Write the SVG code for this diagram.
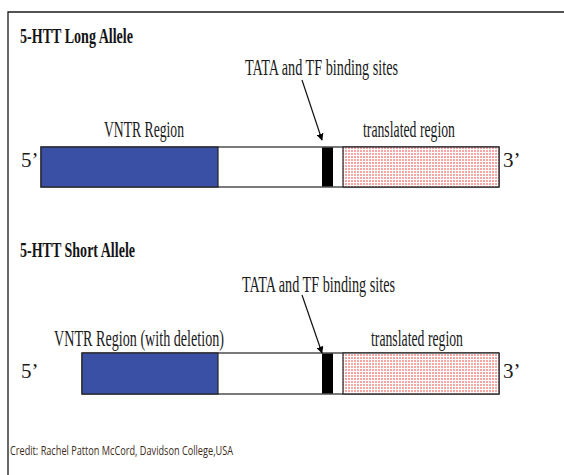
<svg xmlns="http://www.w3.org/2000/svg" width="564" height="475" viewBox="0 0 564 475">
  <style>
    .title { font-family: "Liberation Serif", "Times New Roman", serif; font-weight: bold; font-size: 21px; fill: #141414; }
    .label { font-family: "Liberation Serif", "Times New Roman", serif; font-size: 23px; fill: #1a1a1a; }
    .end { font-family: "Liberation Serif", "Times New Roman", serif; font-size: 21px; fill: #1a1a1a; }
    .credit { font-family: "Open Sans", "Liberation Sans", sans-serif; font-size: 12px; fill: #3b2a18; }
    .seg { stroke: #222; stroke-width: 1.2; }
    .vntr { fill: #3a50a4; }
    .spacer { fill: #ffffff; }
    .tata { fill: #000000; stroke: none; }
    .coding { fill: url(#dots); }
    .arrow { stroke: #111; stroke-width: 1.2; fill: none; marker-end: url(#head); }
  </style>
  <defs>
    <pattern id="dots" width="3" height="3" patternUnits="userSpaceOnUse">
      <rect width="3" height="3" fill="#ffffff"/>
      <rect width="2" height="2" fill="#f6a5a5"/>
    </pattern>
    <marker id="head" viewBox="0 0 10 10" refX="9" refY="5" markerWidth="7" markerHeight="7" orient="auto" markerUnits="userSpaceOnUse">
      <path d="M0,0 L10,5 L0,10 Z" fill="#000"/>
    </marker>
  </defs>

  <rect width="564" height="475" fill="#ffffff"/>
  <!-- frame: top and left rules -->
  <path d="M8,475 V12 H564" fill="none" stroke="#1a1a1a" stroke-width="1.3"/>

  <!-- long allele -->
  <g id="long-allele">
    <text class="title" x="20" y="43" textLength="113" lengthAdjust="spacingAndGlyphs">5-HTT Long Allele</text>
    <text class="label" x="245" y="75" textLength="153" lengthAdjust="spacingAndGlyphs">TATA and TF binding sites</text>
    <text class="label" x="104" y="137" textLength="80" lengthAdjust="spacingAndGlyphs">VNTR Region</text>
    <text class="label" x="363" y="137" textLength="92" lengthAdjust="spacingAndGlyphs">translated region</text>
    <text class="end" x="21" y="167">5’</text>
    <text class="end" x="503" y="167">3’</text>
    <rect class="seg spacer" x="41" y="147" width="458" height="40"/>
    <rect class="seg vntr" x="41" y="147" width="177" height="40"/>
    <rect class="tata" x="322" y="147.5" width="11" height="39"/>
    <rect class="seg coding" x="343" y="147" width="156" height="40"/>
  </g>

  <!-- short allele -->
  <g id="short-allele">
    <text class="title" x="20" y="257" textLength="115" lengthAdjust="spacingAndGlyphs">5-HTT Short Allele</text>
    <text class="label" x="242" y="292" textLength="153" lengthAdjust="spacingAndGlyphs">TATA and TF binding sites</text>
    <text class="label" x="54" y="346" textLength="170" lengthAdjust="spacingAndGlyphs">VNTR Region (with deletion)</text>
    <text class="label" x="371" y="346" textLength="92" lengthAdjust="spacingAndGlyphs">translated region</text>
    <text class="end" x="21" y="378">5’</text>
    <text class="end" x="503" y="378">3’</text>
    <rect class="seg spacer" x="82" y="353" width="417" height="41"/>
    <rect class="seg vntr" x="82" y="353" width="136" height="41"/>
    <rect class="tata" x="322" y="353.5" width="11" height="40"/>
    <rect class="seg coding" x="343" y="353" width="156" height="41"/>
  </g>

  <!-- pointers to the TATA boxes -->
  <g id="connectors">
    <line class="arrow" x1="302" y1="80" x2="322" y2="140"/>
    <line class="arrow" x1="302" y1="295" x2="322" y2="353"/>
  </g>

  <text class="credit" x="10" y="455" textLength="223" lengthAdjust="spacingAndGlyphs">Credit: Rachel Patton McCord,  Davidson College,USA</text>
</svg>
